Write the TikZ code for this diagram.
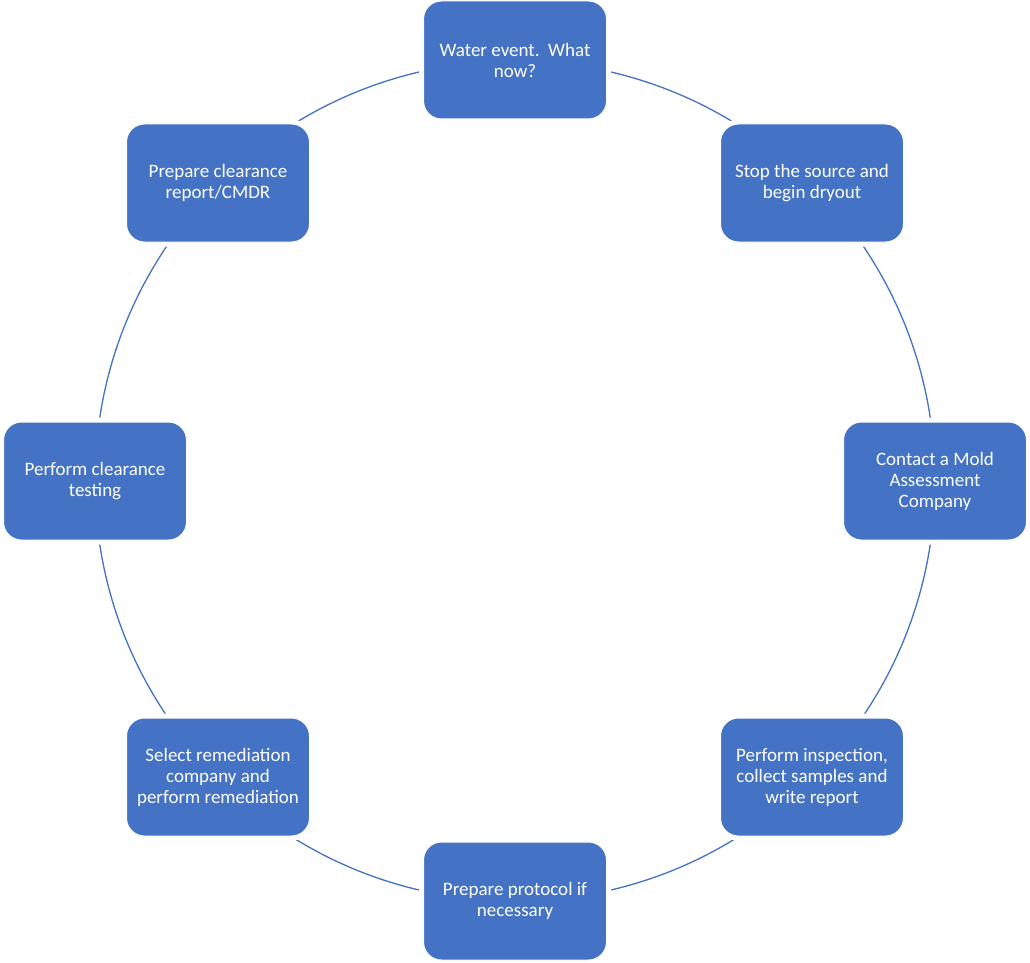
\documentclass[tikz,border=0pt]{standalone}
\usepackage{fontspec}
\setmainfont{Carlito}
\definecolor{accblue}{HTML}{4472C4}
\begin{document}
\begin{tikzpicture}[x=1pt,y=-1pt,
  stepbox/.style={rectangle, rounded corners=18pt, fill=accblue, draw=white, line width=1pt,
    minimum width=183pt, minimum height=118pt, inner sep=0pt,
    text=white, align=center, font=\fontsize{19}{21}\selectfont,
    preaction={draw=white, line width=9pt}},
  ring/.style={draw=accblue, line width=1.3pt}]
\useasboundingbox (0,0) rectangle (1030,963);
\coordinate (c) at (515,481);
\draw[ring] (c) circle[radius=420];
\node[stepbox] (n1) at (515,60) {Water event.\ \ What\\now?};
\node[stepbox] (n2) at (812,183) {Stop the source and\\begin dryout};
\node[stepbox] (n3) at (935,481) {Contact a Mold\\Assessment\\Company};
\node[stepbox] (n4) at (812,777) {Perform inspection,\\collect samples and\\write report};
\node[stepbox] (n5) at (515,901) {Prepare protocol if\\necessary};
\node[stepbox] (n6) at (218,777) {Select remediation\\company and\\perform remediation};
\node[stepbox] (n7) at (95,481) {Perform clearance\\testing};
\node[stepbox] (n8) at (218,183) {Prepare clearance\\report/CMDR};
\end{tikzpicture}
\end{document}
